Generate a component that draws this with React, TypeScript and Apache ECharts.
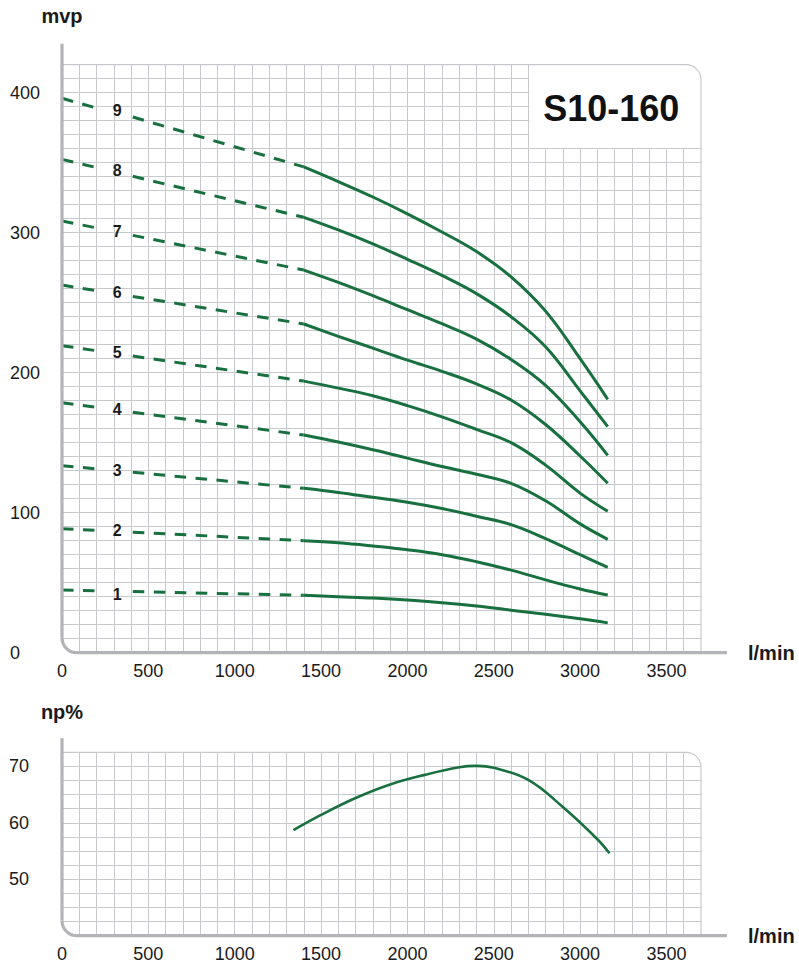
import React, { useEffect, useRef } from "react";
import * as echarts from "echarts";

// ---------- data ----------
const FLOW_SOLID = [1400, 1600, 1800, 2000, 2200, 2400, 2600, 2800, 3000, 3160];
const HEAD_1 = [41, 40, 39, 37.6, 35.7, 33.3, 30.4, 27.4, 24.2, 21.3];
const HEAD_2 = [80, 78.5, 76.2, 73.5, 70, 65, 59, 52, 45.5, 41.2];
const HEAD_3 = [117.4, 114.5, 111, 107.5, 103, 97.5, 91.5, 81.5, 70, 61];
const HEAD_4 = [155.5, 150.5, 145, 139, 133, 127.5, 121, 108.5, 92, 81];
const HEAD_5 = [194, 189, 183.5, 176.5, 168.5, 159.5, 150, 134, 114, 101];
const HEAD_6 = [234.8, 226, 217.5, 209, 201, 192, 180.5, 163, 140.5, 121];
const HEAD_7 = [273.3, 264.5, 255, 245, 235, 224, 209.5, 191, 165, 141];
const HEAD_8 = [311, 302, 292, 281, 269.5, 256.5, 240, 218.5, 187, 161.5];
const HEAD_9 = [347, 336.5, 325.5, 313.5, 300.5, 286.5, 268.5, 244, 210, 181];
const HEADS = [HEAD_1, HEAD_2, HEAD_3, HEAD_4, HEAD_5, HEAD_6, HEAD_7, HEAD_8, HEAD_9];

// dashed (extrapolated) part, broken around the stage number
const DASH_LEFT_FLOW = [0, 200];
const DASH_RIGHT_FLOW = [410, 1400];
const HEAD_AT_0 = [44.8, 88.6, 133.6, 178.6, 219.3, 262.6, 308.4, 352.4, 396];
const HEAD_AT_200 = [44.3, 87.4, 131.3, 175.3, 215.7, 258.6, 303.4, 346.5, 389];
const HEAD_AT_410 = [43.7, 86.1, 128.9, 171.8, 211.9, 254.5, 298.1, 340.3, 382.6];

const STAGE_LABELS = ["1", "2", "3", "4", "5", "6", "7", "8", "9"];
const STAGE_LABEL_FLOW = 320;
const STAGE_LABEL_HEAD = [41.9, 87.2, 129.8, 173.4, 214.6, 257.6, 301.2, 344.3, 387.6];

const EFF_FLOW = [1340, 1500, 1700, 1900, 2100, 2300, 2400, 2500, 2700, 2900, 3100, 3170];
const EFF_VALUES = [58.7, 61.4, 64.4, 66.8, 68.5, 69.85, 70.1, 69.75, 67.6, 62.8, 57.1, 54.6];

const X_LABELS = [0, 500, 1000, 1500, 2000, 2500, 3000, 3500];
const H_LABELS = [0, 100, 200, 300, 400];
const E_LABELS = [50, 60, 70];

const TITLE = "S10-160";

// ---------- styles ----------
const GREEN = "#18703f";
const GRID_C = "#c8c9cd";
const AXIS_C = "#b3b4b8";
const TEXT_C = "#1a1a1a";
const FONT = "Liberation Sans, Arial, sans-serif";

function buildOption() {
  const series: any[] = [];
  HEADS.forEach((h, i) => {
    series.push({
      type: "line",
      xAxisIndex: 0,
      yAxisIndex: 0,
      symbol: "none",
      silent: true,
      data: [
        [DASH_LEFT_FLOW[0], HEAD_AT_0[i]],
        [DASH_LEFT_FLOW[1], HEAD_AT_200[i]],
      ],
      lineStyle: { color: GREEN, width: 3, type: [11.5, 9.5] },
    });
    series.push({
      type: "line",
      xAxisIndex: 0,
      yAxisIndex: 0,
      symbol: "none",
      silent: true,
      data: [
        [DASH_RIGHT_FLOW[0], HEAD_AT_410[i]],
        [DASH_RIGHT_FLOW[1], h[0]],
      ],
      lineStyle: { color: GREEN, width: 3, type: [11.5, 9.5] },
    });
    series.push({
      type: "line",
      xAxisIndex: 0,
      yAxisIndex: 0,
      symbol: "none",
      silent: true,
      smooth: 0.4,
      data: FLOW_SOLID.map((f, k) => [f, h[k]]),
      lineStyle: { color: GREEN, width: 3 },
    });
  });
  series.push({
    type: "custom",
    xAxisIndex: 0,
    yAxisIndex: 0,
    silent: true,
    z: 5,
    data: STAGE_LABEL_HEAD.map((v) => [STAGE_LABEL_FLOW, v]),
    renderItem: (params: any, api: any) => {
      const p = api.coord([api.value(0), api.value(1)]);
      return {
        type: "text",
        x: p[0],
        y: p[1],
        style: {
          text: STAGE_LABELS[params.dataIndex],
          font: "bold 16px Liberation Sans, Arial, sans-serif",
          fill: TEXT_C,
          align: "center",
          verticalAlign: "middle",
        },
      };
    },
  });
  series.push({
    type: "line",
    xAxisIndex: 1,
    yAxisIndex: 1,
    symbol: "none",
    silent: true,
    smooth: 0.4,
    data: EFF_FLOW.map((f, k) => [f, EFF_VALUES[k]]),
    lineStyle: { color: GREEN, width: 2.6 },
  });

  const xAxisBase = (gridIndex: number) => ({
    type: "value",
    gridIndex,
    min: 0,
    max: 3700,
    interval: 100,
    axisLine: { show: false },
    axisTick: { show: false },
    splitLine: {
      show: true,
      showMinLine: false,
      showMaxLine: false,
      lineStyle: { color: GRID_C, width: 1 },
    },
    axisLabel: {
      margin: 9,
      fontFamily: FONT,
      fontSize: 18,
      color: TEXT_C,
      formatter: (v: number) => (X_LABELS.includes(v) ? String(v) : ""),
    },
    name: "l/min",
    nameLocation: "end",
    nameGap: 47,
    nameTextStyle: {
      fontFamily: FONT,
      fontSize: 20,
      fontWeight: "bold",
      color: TEXT_C,
      align: "left",
      verticalAlign: "middle",
    },
  });

  return {
    animation: false,
    backgroundColor: "#ffffff",
    textStyle: { fontFamily: FONT },
    grid: [
      { left: 62, right: 98, top: 64.7, height: 588 },
      { left: 62, right: 98, top: 752.3, height: 183.4 },
    ],
    xAxis: [xAxisBase(0), xAxisBase(1)],
    yAxis: [
      {
        type: "value",
        gridIndex: 0,
        min: 0,
        max: 420,
        interval: 10,
        axisLine: { show: false },
        axisTick: { show: false },
        splitLine: {
          show: true,
          showMinLine: false,
          showMaxLine: false,
          lineStyle: { color: GRID_C, width: 1 },
        },
        axisLabel: {
          align: "left",
          margin: 52,
          fontFamily: FONT,
          fontSize: 18,
          color: TEXT_C,
          formatter: (v: number) => (H_LABELS.includes(v) ? String(v) : ""),
        },
        name: "mvp",
        nameLocation: "end",
        nameGap: 39,
        nameTextStyle: {
          fontFamily: FONT,
          fontSize: 20,
          fontWeight: "bold",
          color: TEXT_C,
          align: "center",
        },
      },
      {
        type: "value",
        gridIndex: 1,
        min: 40,
        max: 72.5,
        interval: 2.5,
        axisLine: { show: false },
        axisTick: { show: false },
        splitLine: {
          show: true,
          showMinLine: false,
          showMaxLine: false,
          lineStyle: { color: GRID_C, width: 1 },
        },
        axisLabel: {
          align: "left",
          margin: 53,
          fontFamily: FONT,
          fontSize: 18,
          color: TEXT_C,
          formatter: (v: number) => (E_LABELS.includes(v) ? String(v) : ""),
        },
        name: "np%",
        nameLocation: "end",
        nameGap: 30,
        nameTextStyle: {
          fontFamily: FONT,
          fontSize: 20,
          fontWeight: "bold",
          color: TEXT_C,
          align: "center",
        },
      },
    ],
    series,
  };
}

function frameGraphics(
  chart: echarts.ECharts,
  gridIndex: number,
  xMin: number,
  xMax: number,
  yMin: number,
  yMax: number,
  axisTopValue: number,
  axisEndValue: number
) {
  const px = (x: number, y: number) =>
    chart.convertToPixel({ gridIndex } as any, [x, y]) as number[];
  const [xL, yB] = px(xMin, yMin);
  const [xR, yT] = px(xMax, yMax);
  const axisTop = px(xMin, axisTopValue)[1];
  const axisEnd = px(axisEndValue, yMin)[0];
  const R = 15;
  const RA = 15;
  return [
    {
      type: "line",
      z: 40,
      silent: true,
      shape: { x1: xL, y1: yT, x2: xR - R, y2: yT },
      style: { stroke: GRID_C, lineWidth: 1.2 },
    },
    {
      type: "arc",
      z: 40,
      silent: true,
      shape: { cx: xR - R, cy: yT + R, r: R, startAngle: -Math.PI / 2, endAngle: 0, clockwise: true },
      style: { stroke: GRID_C, lineWidth: 1.2, fill: null },
    },
    {
      type: "line",
      z: 40,
      silent: true,
      shape: { x1: xR, y1: yT + R, x2: xR, y2: yB },
      style: { stroke: GRID_C, lineWidth: 1.2 },
    },
    {
      type: "line",
      z: 45,
      silent: true,
      shape: { x1: xL, y1: axisTop, x2: xL, y2: yB - RA },
      style: { stroke: AXIS_C, lineWidth: 3.2 },
    },
    {
      type: "arc",
      z: 45,
      silent: true,
      shape: { cx: xL + RA, cy: yB - RA, r: RA, startAngle: Math.PI / 2, endAngle: Math.PI, clockwise: true },
      style: { stroke: AXIS_C, lineWidth: 3.2, fill: null },
    },
    {
      type: "line",
      z: 45,
      silent: true,
      shape: { x1: xL + RA, y1: yB, x2: axisEnd, y2: yB },
      style: { stroke: AXIS_C, lineWidth: 3.2 },
    },
  ];
}

export default function App() {
  const ref = useRef<HTMLDivElement>(null);
  useEffect(() => {
    if (!ref.current) return;
    const chart = echarts.init(ref.current, null, { renderer: "svg" });
    chart.setOption(buildOption() as any);

    const px0 = (x: number, y: number) =>
      chart.convertToPixel({ gridIndex: 0 } as any, [x, y]) as number[];
    const [bx1, by1] = px0(2700, 420);
    const [bx2, by2] = px0(3700, 360);
    const [tx, ty] = px0(3180, 389);

    const graphic: any[] = [
      {
        type: "rect",
        z: 30,
        silent: true,
        shape: { x: bx1 + 1, y: by1, width: bx2 - bx1 - 1, height: by2 - by1 - 0.8, r: [0, 15, 0, 0] },
        style: { fill: "#ffffff" },
      },
      {
        type: "text",
        z: 50,
        silent: true,
        x: tx,
        y: ty,
        style: {
          text: TITLE,
          font: "bold 36px Liberation Sans, Arial, sans-serif",
          fill: "#111111",
          align: "center",
          verticalAlign: "middle",
          textAlign: "center",
          textVerticalAlign: "middle",
        },
      },
      ...frameGraphics(chart, 0, 0, 3700, 0, 420, 435, 3850),
      ...frameGraphics(chart, 1, 0, 3700, 40, 72.5, 75, 3850),
    ];
    chart.setOption({ graphic });
    return () => chart.dispose();
  }, []);
  return (
    <div
      ref={ref}
      style={{ position: "absolute", left: 0, top: 0, width: 799, height: 963, background: "#fff" }}
    />
  );
}
